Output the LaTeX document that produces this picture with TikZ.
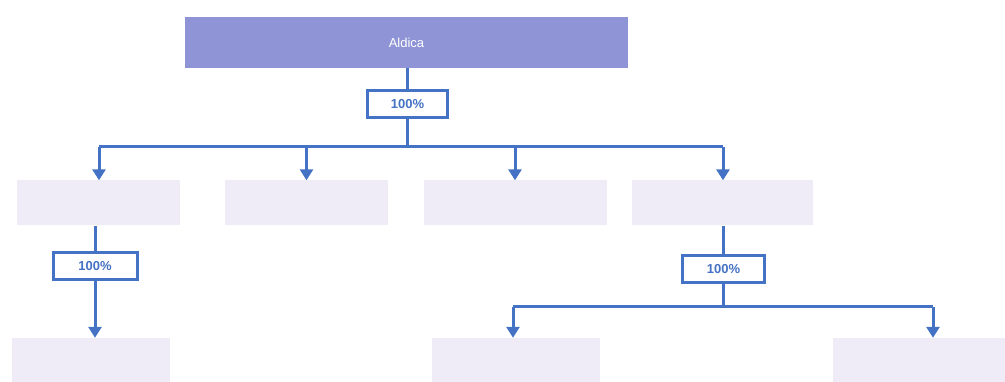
\documentclass[tikz,border=0pt]{standalone}
\usepackage{fontspec}
\setmainfont{Liberation Sans}
\usetikzlibrary{arrows.meta}
\definecolor{lineblue}{HTML}{4472C4}
\definecolor{topfill}{HTML}{8E94D6}
\definecolor{lightfill}{HTML}{EFECF8}
\tikzset{
  x=1pt, y=-1pt,
  conn/.style={draw=lineblue, line width=3pt},
  arr/.style={conn, -{Triangle[width=13pt,length=11pt]}},
  pct/.style={draw=lineblue, line width=3pt, fill=white, text=lineblue, font=\bfseries\fontsize{13}{14}\selectfont, minimum width=80pt, minimum height=27pt, inner sep=0pt},
  entity/.style={fill=lightfill, draw=none, inner sep=0pt},
}
\begin{document}
\begin{tikzpicture}
\useasboundingbox (0,0) rectangle (1005,382);
% top box
\node[fill=topfill, minimum width=443pt, minimum height=51pt, inner sep=0pt, text=white, font=\fontsize{13}{14}\selectfont] (top) at (406.5,42.5) {Aldica};
% row 2
\node[entity, minimum width=163pt, minimum height=45pt] (b1) at (98.5,203) {};
\node[entity, minimum width=163pt, minimum height=45pt] (b2) at (306.5,203) {};
\node[entity, minimum width=183pt, minimum height=45pt] (b3) at (515,203) {};
\node[entity, minimum width=181pt, minimum height=45pt] (b4) at (722.5,203) {};
% row 3
\node[entity, minimum width=158pt, minimum height=44pt] (c1) at (91,360) {};
\node[entity, minimum width=168pt, minimum height=44pt] (c2) at (516,360) {};
\node[entity, minimum width=172pt, minimum height=44pt] (c3) at (919,360) {};
% pct boxes
\node[pct] (p1) at (407.5,104.5) {100\%};
\node[pct, minimum width=84pt] (p2) at (95,266) {100\%};
\node[pct, minimum width=82pt] (p3) at (723.5,269) {100\%};
% coordinates
\coordinate (h1) at (407.5,147);
\coordinate (hl) at (99,147);
\coordinate (hr) at (723,147);
\coordinate (g1) at (723.5,307);
\coordinate (gl) at (513,307);
\coordinate (gr) at (933,307);
% connectors
\draw[conn] (top.south -| p1) -- (p1.north);
\draw[conn] (p1.south) -- (h1);
\draw[conn] (hl) -- (hr);
\draw[arr] (hl) -- (hl |- b1.north);
\draw[arr] (h1 -| b2) -- (b2.north);
\draw[arr] (h1 -| b3) -- (b3.north);
\draw[arr] (hr) -- (hr |- b4.north);
\draw[conn] (b1.south -| p2) -- (p2.north);
\draw[arr] (p2.south) -- (p2.south |- c1.north);
\draw[conn] (b4.south -| p3) -- (p3.north);
\draw[conn] (p3.south) -- (g1);
\draw[conn] (gl) -- (gr);
\draw[arr] (gl) -- (gl |- c2.north);
\draw[arr] (gr) -- (gr |- c3.north);
\end{tikzpicture}
\end{document}
